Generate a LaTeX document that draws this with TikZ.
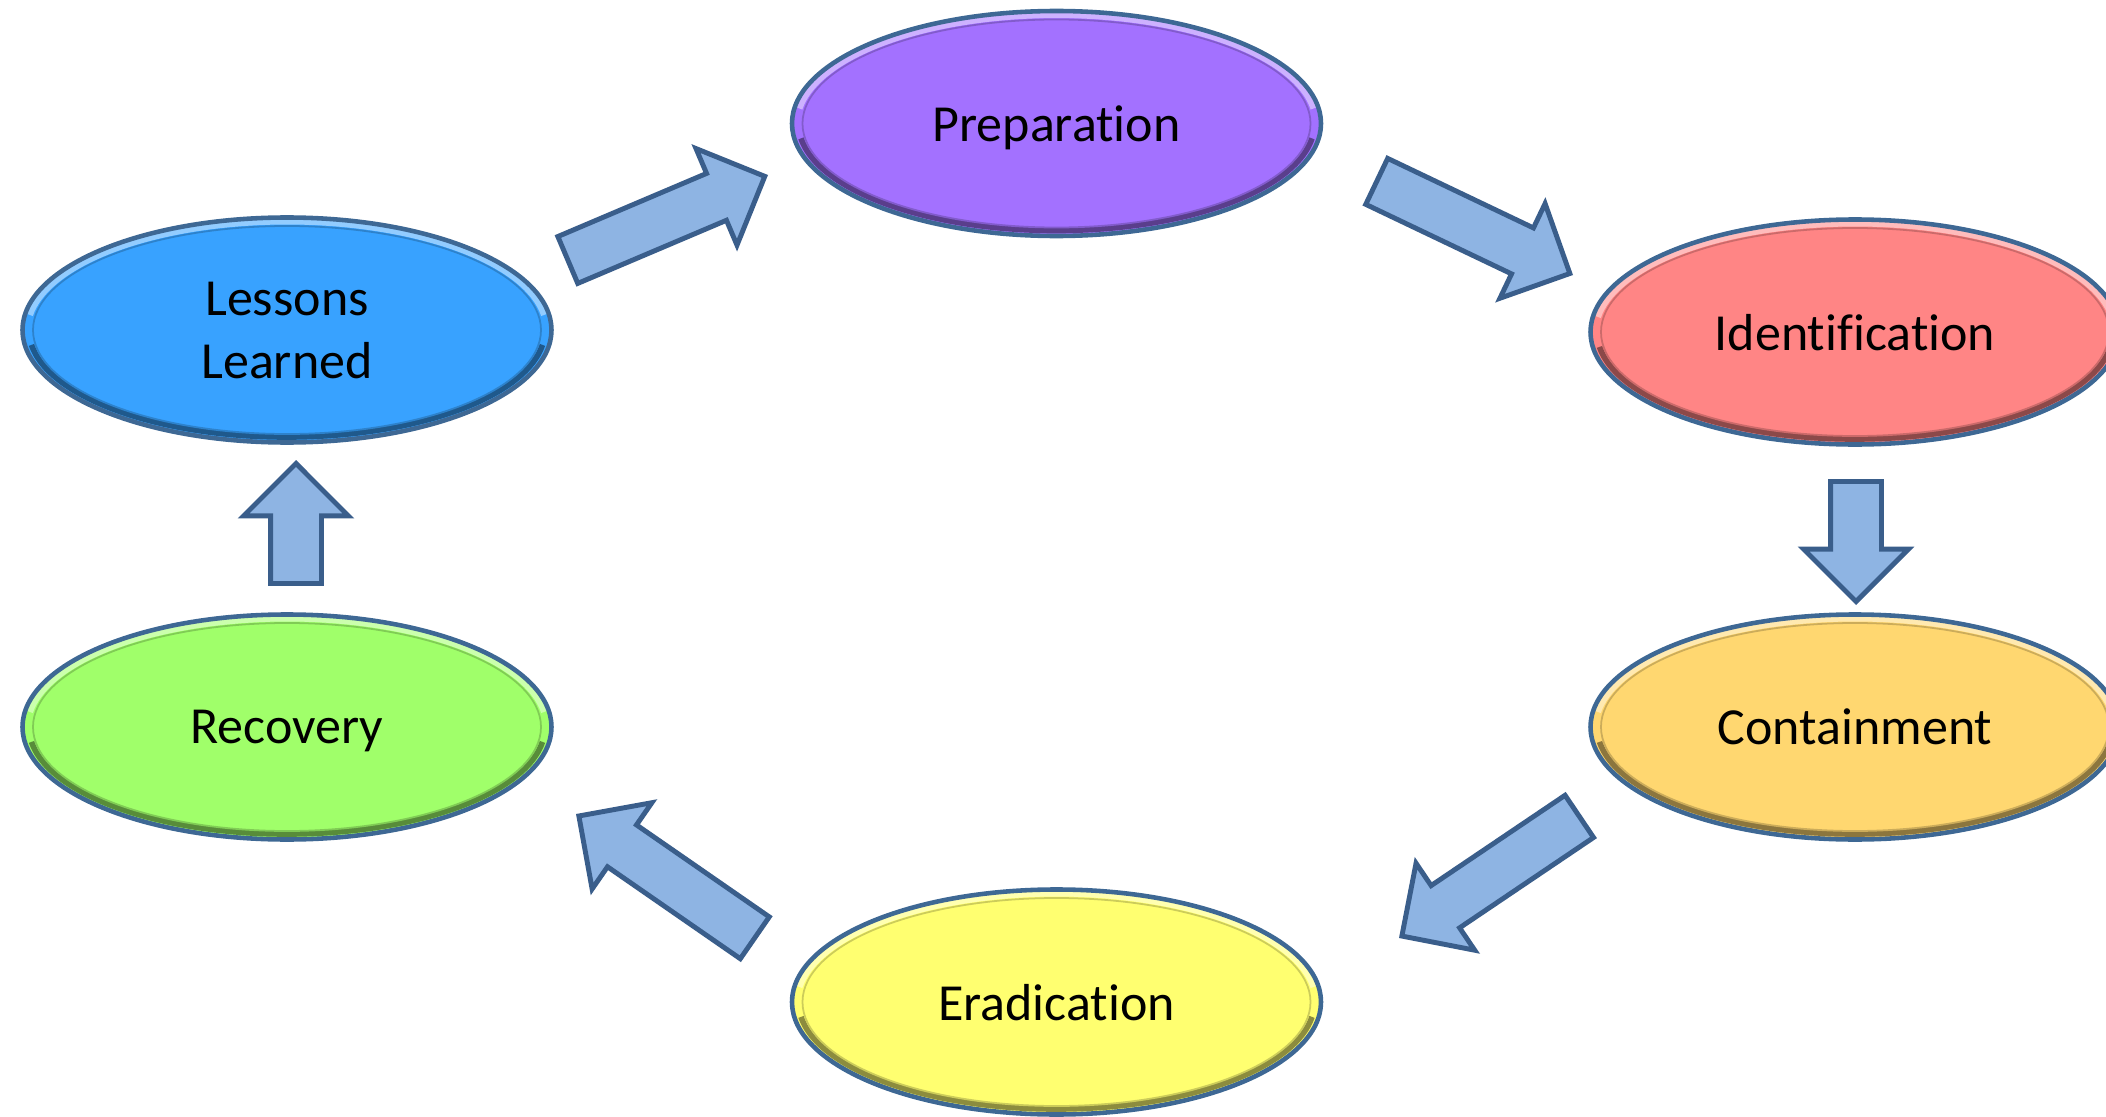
\documentclass[tikz,border=0pt]{standalone}
\usepackage{xcolor}
\usepackage{tikz}
\usepackage{fontspec}
\setmainfont{Carlito}[Ligatures=NoCommon]
\definecolor{prep4} {RGB} {163, 113, 255}
\definecolor{ident4} {RGB} {255, 133, 133}
\definecolor{cont4} {RGB} {255, 215, 112}
\definecolor{erad4} {RGB} {255, 255, 112}
\definecolor{recov4} {RGB} {160, 255, 106}
\definecolor{lesson4} {RGB} {56, 162, 255}
\definecolor{ringblue} {RGB} {62, 104, 148}
\definecolor{arrowfill} {RGB} {142, 180, 227}
\definecolor{arrowline} {RGB} {58, 94, 139}
\usetikzlibrary{shapes.geometric}
\usetikzlibrary{shapes.arrows}
\usetikzlibrary{calc}
\tikzstyle{ircycle}=[
  font=\fontsize{14.8}{18}\selectfont
]
\tikzstyle{irphase}=[
  ellipse, draw=ringblue, line width=1.3pt, fill=#1,
  minimum width=5.29cm, minimum height=2.25cm, inner sep=0pt, align=center,
  text depth=0pt,
  path picture={
    \draw[#1!55!white, line width=2pt] (path picture bounding box.center)
      ++(8:2.6cm and 1.09cm) arc (8:172:2.6cm and 1.09cm);
    \draw[#1!55!black, line width=1.6pt] (path picture bounding box.center)
      ++(188:2.58cm and 1.07cm) arc (188:352:2.58cm and 1.07cm);
    \draw[#1!80!black, line width=0.5pt] (path picture bounding box.center)
      ellipse [x radius=2.54cm, y radius=1.04cm];
  }
]
\tikzstyle{irarrow}=[
  single arrow, draw=arrowline, fill=arrowfill, line width=1.4pt,
  inner xsep=0pt, inner ysep=0.23cm, single arrow head extend=0.27cm,
  single arrow tip angle=90, anchor=tip, minimum height=2.14cm
]
\tikzstyle{irshort}=[
  irarrow, minimum height=1.2cm
]
\begin{document}
\begin{tikzpicture}[ircycle]
    \useasboundingbox (0,0) rectangle (21.06,11.16);
    \node (prep) [irphase=prep4] at (10.565, 9.925) {Preparation};
    \node (ident) [irphase=ident4] at ($(prep) + (7.985, -2.085)$) {Identification};
    \node (cont) [irphase=cont4] at ($(ident) + (0.0, -3.95)$) {Containment};
    \node (erad) [irphase=erad4] at ($(prep) + (0.0, -8.785)$) {Eradication};
    \node (recov) [irphase=recov4] at ($(cont) + (-15.68, 0.0)$) {Recovery};
    \node (lessons) [irphase=lesson4] at ($(ident) + (-15.68, 0.02)$) {Lessons\\Learned};
    \node (to ident) [irarrow, rotate=-25.5] at ($(ident) + (-2.82, 0.57)$) {};
    \node (to cont) [irshort, rotate=-90] at ($(cont) + (0.01, 1.22)$) {};
    \node (to erad) [irarrow, rotate=214] at ($(erad) + (3.425, 0.64)$) {};
    \node (to recov) [irarrow, rotate=145.3] at ($(recov) + (2.89, -0.87)$) {};
    \node (to lessons) [irshort, rotate=90] at ($(lessons) + (0.09, -1.3)$) {};
    \node (to prep) [irarrow, rotate=23] at ($(prep) + (-2.885, -0.515)$) {};
\end{tikzpicture}
\end{document}
